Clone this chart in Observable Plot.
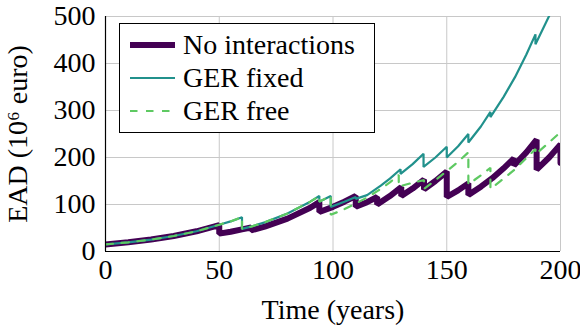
<!DOCTYPE html>
<html>
<head>
<meta charset="utf-8">
<script src="https://cdn.jsdelivr.net/npm/d3@7"></script>
<script src="https://cdn.jsdelivr.net/npm/@observablehq/plot@0.6"></script>
<style>
  html, body { margin: 0; padding: 0; background: white; }
  #wrap { position: relative; width: 580px; height: 326px; font-family: 'Liberation Serif', serif; }
  #legend { position: absolute; left: 119px; top: 23px; width: 256px; height: 110px; border: 1px solid black; background: white; box-sizing: border-box; }
  .row { position: absolute; left: 0; height: 33px; display: flex; align-items: center; font-size: 28px; line-height: 1; white-space: nowrap; }
  .row svg { margin-left: 10px; margin-right: 8px; }
</style>
</head>
<body>
<div id="wrap"></div>
<script>
// Tick values
const xTicks = [0, 50, 100, 150, 200];
const yTicks = [0, 100, 200, 300, 400, 500];

// Series: No interactions
const noInterTime = [0, 10, 20, 30, 40, 50, 50, 55, 60, 64, 64, 70, 80, 90, 94, 94, 100, 105, 110, 110, 115, 119.4, 119.4, 125, 130, 130, 135, 140, 140, 145, 150, 150, 155, 159.5, 159.5, 165, 170, 175, 179.5, 179.5, 185, 189.5, 189.5, 195, 200, 200];
const noInterEAD  = [15, 19.5, 25.4, 33, 43, 56, 38, 42, 47, 51, 45, 53, 70, 93, 105, 84, 95, 106, 118, 95, 105, 116, 100, 118, 137, 118, 134, 153, 132, 150, 170, 116, 130, 145, 120, 138, 156, 177, 198, 183, 211, 238, 174, 200, 228, 188];

// Series: GER fixed
const gerFixedTime = [0, 10, 20, 30, 40, 50, 55, 60, 60, 64, 70, 80, 90, 94, 94, 99, 99, 105, 110, 110, 115, 121, 125, 129.7, 129.7, 135, 139.8, 139.8, 145, 150, 150, 155, 159.5, 159.5, 165, 169.2, 169.2, 175, 180, 185, 189, 189, 195];
const gerFixedEAD  = [15, 19.5, 25.4, 33, 43, 57, 64, 73, 48, 53, 62, 81, 106, 118, 106, 118, 95, 106, 116, 112, 120, 140, 155, 175, 165, 186, 208, 180, 200, 223, 200, 224, 250, 232, 266, 297, 286, 329, 371, 419, 462, 441, 501];

// Series: GER free
const gerFreeTime = [0, 10, 20, 30, 40, 50, 55, 60, 60, 64, 70, 80, 90, 94, 94, 99, 99, 105, 110, 115, 120, 125, 128.9, 128.9, 134, 140, 140, 145, 150, 155, 159.5, 159.5, 165, 169.2, 169.2, 175, 180, 185, 189, 189, 195, 200];
const gerFreeEAD  = [15, 19.5, 25.4, 33, 43, 57, 64, 73, 48, 53, 62, 81, 106, 118, 106, 118, 78, 90, 102, 115, 130, 147, 163, 138, 145, 152, 133, 152, 171, 191, 211, 143, 162, 178, 133, 155, 175, 199, 218, 207, 232, 254];

const seriesNames = ["No interactions", "GER fixed", "GER free"];
const seriesColors = ["#440154", "#21918c", "#5ec962"];

const rows = (ts, vs) => ts.map((t, i) => ({t, v: vs[i]}));

const chart = Plot.plot({
  width: 580,
  height: 326,
  marginLeft: 105,
  marginRight: 20,
  marginTop: 16,
  marginBottom: 75,
  x: {domain: [0, 200]},
  y: {domain: [0, 500]},
  style: {fontFamily: "'Liberation Serif', serif", fontSize: "28px", background: "white", color: "black", overflow: "visible"},
  marks: [
    Plot.gridX(xTicks, {stroke: "#c8c8c8", strokeOpacity: 1, strokeWidth: 1}),
    Plot.gridY(yTicks, {stroke: "#c8c8c8", strokeOpacity: 1, strokeWidth: 1}),
    Plot.axisX(xTicks, {tickSize: 0, tickPadding: 8, label: "Time (years)", labelAnchor: "center", labelArrow: "none", labelOffset: 67, fontSize: 28}),
    Plot.axisY(yTicks, {tickSize: 0, tickPadding: 10, label: "EAD (10⁶ euro)", labelAnchor: "center", labelArrow: "none", labelOffset: 98, fontSize: 28}),
    Plot.line(rows(noInterTime, noInterEAD), {x: "t", y: "v", stroke: seriesColors[0], strokeWidth: 6, strokeLinejoin: "miter", clip: true}),
    Plot.line(rows(gerFixedTime, gerFixedEAD), {x: "t", y: "v", stroke: seriesColors[1], strokeWidth: 2.2, strokeLinejoin: "miter", clip: true}),
    Plot.line(rows(gerFreeTime, gerFreeEAD), {x: "t", y: "v", stroke: seriesColors[2], strokeWidth: 2.2, strokeDasharray: "7.5,8.5", strokeLinejoin: "miter", clip: true}),
    Plot.ruleX([0], {stroke: "black", strokeWidth: 1.2}),
    Plot.ruleY([0], {stroke: "black", strokeWidth: 1.2})
  ]
});

const wrap = document.getElementById("wrap");
wrap.appendChild(chart);

// Legend overlay
const legend = document.createElement("div");
legend.id = "legend";
const styles = [
  {w: 6, dash: null},
  {w: 2.2, dash: null},
  {w: 2.2, dash: "7.5,8.5"}
];
seriesNames.forEach((name, i) => {
  const row = document.createElement("div");
  row.className = "row";
  row.style.top = (4 + i * 33) + "px";
  const svg = d3.create("svg").attr("width", 45).attr("height", 12);
  svg.append("line").attr("x1", 0).attr("x2", 45).attr("y1", 6).attr("y2", 6)
    .attr("stroke", seriesColors[i]).attr("stroke-width", styles[i].w)
    .attr("stroke-dasharray", styles[i].dash);
  row.appendChild(svg.node());
  const span = document.createElement("span");
  span.textContent = name;
  row.appendChild(span);
  legend.appendChild(row);
});
wrap.appendChild(legend);
</script>
</body>
</html>
